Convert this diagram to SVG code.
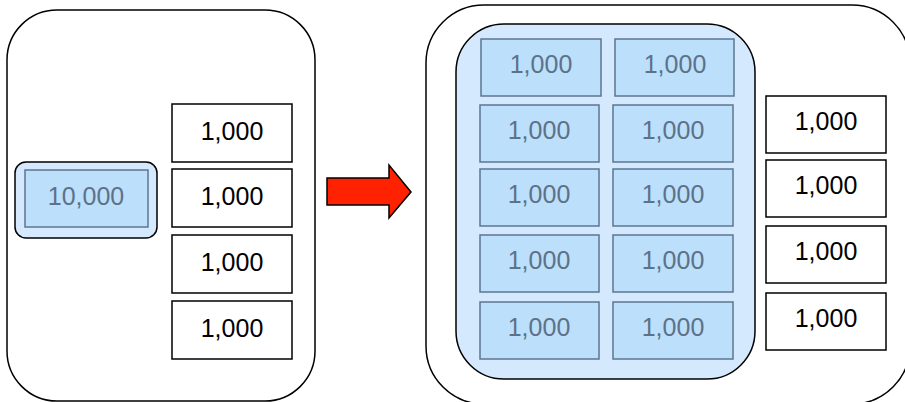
<svg xmlns="http://www.w3.org/2000/svg" width="905" height="402" viewBox="0 0 905 402">
<style>
.outer{fill:#ffffff;stroke:#000;stroke-width:1.5}
.grp{fill:#d4e9fd;stroke:#000;stroke-width:1.5}
.cell{fill:#bcdffb;stroke:#5c7690;stroke-width:1.5}
.wbox{fill:#ffffff;stroke:#000;stroke-width:1.5}
.t{font-family:"Liberation Sans",Arial,sans-serif;font-size:25px;text-anchor:middle}
.tb{fill:#000}
.tg{fill:#5d7287}
</style>
<rect width="905" height="402" fill="#fff"/>
<g id="left-container">
<rect class="outer" x="7" y="10" width="308" height="391" rx="50"/>
</g>
<g id="left-group">
<rect class="grp" x="15" y="162" width="142" height="76" rx="11"/>
</g>
<g id="cell-10000">
<rect class="cell" x="25" y="170" width="123" height="57"/>
<text class="t tg" x="86" y="205">10,000</text>
</g>
<g id="l1"><rect class="wbox" x="172" y="104" width="120" height="58"/><text class="t tb" x="232" y="140">1,000</text></g>
<g id="l2"><rect class="wbox" x="172" y="169" width="120" height="58"/><text class="t tb" x="232" y="205">1,000</text></g>
<g id="l3"><rect class="wbox" x="172" y="235" width="120" height="58"/><text class="t tb" x="232" y="271">1,000</text></g>
<g id="l4"><rect class="wbox" x="172" y="301" width="120" height="58"/><text class="t tb" x="232" y="337">1,000</text></g>
<g id="connectors">
<polygon points="327,178 389,178 389,165 411,192 389,218 389,205 327,205" fill="#ff2200" stroke="#000" stroke-width="1.5"/>
</g>
<g id="right-container">
<rect class="outer" x="426" y="5" width="484" height="399" rx="58"/>
</g>
<g id="right-group">
<rect class="grp" x="456" y="24" width="299" height="355" rx="48"/>
</g>
<g id="c11"><rect class="cell" x="481" y="39" width="120" height="57"/><text class="t tg" x="541" y="73">1,000</text></g>
<g id="c12"><rect class="cell" x="615" y="39" width="119" height="57"/><text class="t tg" x="675" y="73">1,000</text></g>
<g id="c21"><rect class="cell" x="480" y="105" width="119" height="57"/><text class="t tg" x="539" y="139">1,000</text></g>
<g id="c22"><rect class="cell" x="613" y="105" width="120" height="57"/><text class="t tg" x="673" y="139">1,000</text></g>
<g id="c31"><rect class="cell" x="480" y="169" width="119" height="57"/><text class="t tg" x="539" y="203">1,000</text></g>
<g id="c32"><rect class="cell" x="613" y="169" width="120" height="57"/><text class="t tg" x="673" y="203">1,000</text></g>
<g id="c41"><rect class="cell" x="480" y="235" width="119" height="57"/><text class="t tg" x="539" y="269">1,000</text></g>
<g id="c42"><rect class="cell" x="613" y="235" width="120" height="57"/><text class="t tg" x="673" y="269">1,000</text></g>
<g id="c51"><rect class="cell" x="480" y="302" width="119" height="57"/><text class="t tg" x="539" y="336">1,000</text></g>
<g id="c52"><rect class="cell" x="613" y="302" width="120" height="57"/><text class="t tg" x="673" y="336">1,000</text></g>
<g id="r1"><rect class="wbox" x="766" y="96" width="120" height="57"/><text class="t tb" x="826" y="130">1,000</text></g>
<g id="r2"><rect class="wbox" x="766" y="160" width="120" height="57"/><text class="t tb" x="826" y="194">1,000</text></g>
<g id="r3"><rect class="wbox" x="766" y="226" width="120" height="57"/><text class="t tb" x="826" y="260">1,000</text></g>
<g id="r4"><rect class="wbox" x="766" y="293" width="120" height="57"/><text class="t tb" x="826" y="327">1,000</text></g>
</svg>
